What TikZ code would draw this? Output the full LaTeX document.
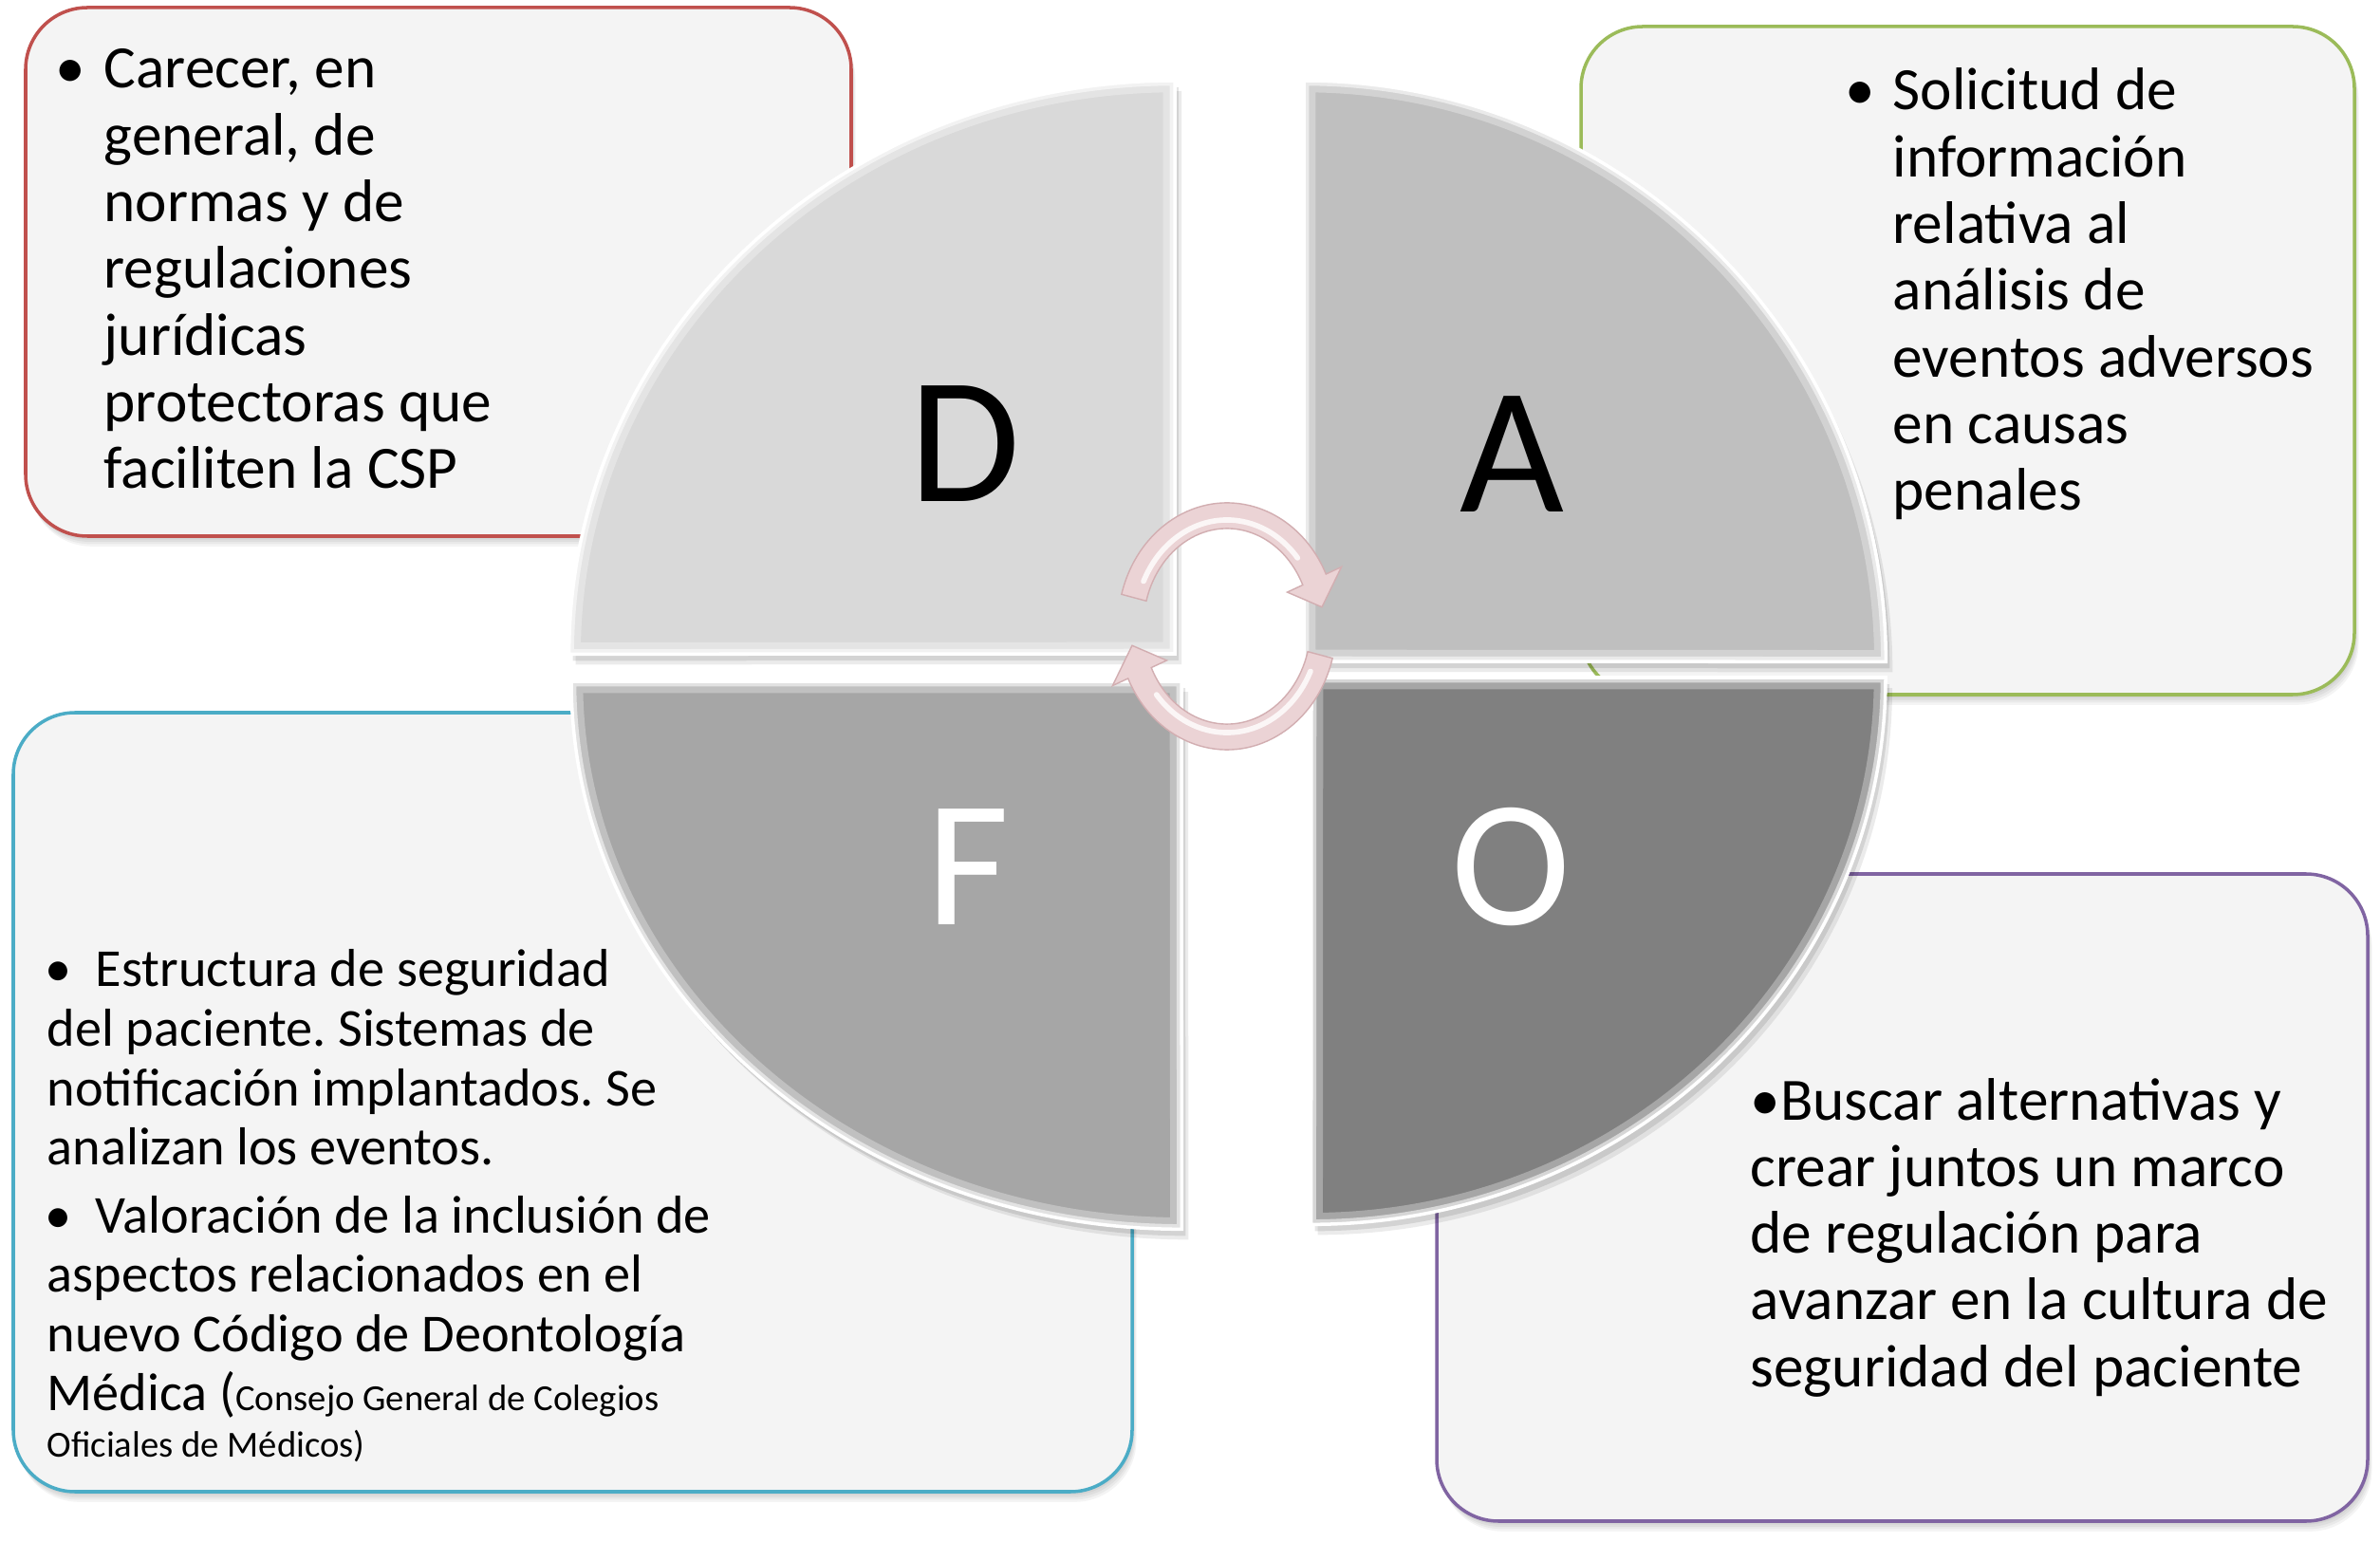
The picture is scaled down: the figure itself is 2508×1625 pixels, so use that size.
\documentclass[tikz,border=0pt]{standalone}
\usepackage{fontspec}
\setmainfont{Carlito}
\frenchspacing
\usetikzlibrary{calc}
\definecolor{boxfill}{HTML}{F4F4F4}
\definecolor{bred}{HTML}{C0504D}
\definecolor{bgreen}{HTML}{9BBB59}
\definecolor{bblue}{HTML}{4BACC6}
\definecolor{bpurple}{HTML}{8064A2}
\definecolor{pieD}{HTML}{D9D9D9}
\definecolor{pieA}{HTML}{BFBFBF}
\definecolor{pieF}{HTML}{A6A6A6}
\definecolor{pieO}{HTML}{808080}
\definecolor{arrowfill}{HTML}{EBD3D5}
\definecolor{arrowedge}{HTML}{D2AEB1}
\newcommand\swotbox[5]{%
  \foreach \o in {1,3,5,7,9}{\fill[black,opacity=0.045,rounded corners=0.65cm] (#1+\o*0.5,#2+\o*1.2) rectangle (#3+\o*0.5,#4+\o*1.2);}
  \draw[#5, line width=1pt, fill=boxfill, rounded corners=0.65cm] (#1,#2) rectangle (#3,#4);}
\newcommand\piequad[2]{%
  \fill[black,opacity=0.10,xshift=0.04cm,yshift=-0.07cm] #2;
  \fill[black,opacity=0.08,xshift=0.07cm,yshift=-0.11cm] #2;
  \fill[#1] #2;
  \begin{scope}\clip #2;
    \draw[white,opacity=0.30,line width=7pt] #2;
    \draw[white,opacity=0.55,line width=3pt] #2;
  \end{scope}
  \draw[white,line width=1pt] #2;}
\begin{document}
\begin{tikzpicture}[x=0.01cm, y=-0.01cm,
  txt/.style={inner sep=0pt, anchor=base west, font=\fontsize{18}{20}\selectfont},
  ftxt/.style={inner sep=0pt, anchor=base west, font=\fontsize{16}{17.8}\selectfont},
  bul/.style={inner sep=0pt, anchor=base, font=\fontsize{18}{20}\selectfont},
  fbul/.style={inner sep=0pt, anchor=base, font=\fontsize{16}{17.8}\selectfont},
  letter/.style={inner sep=0pt, anchor=base, font=\fontsize{54}{60}\selectfont},
  arrowbody/.style={fill=arrowfill, draw=arrowedge, line width=0.4pt}]
\useasboundingbox (0,0) rectangle (2508,1625);
\fill[white] (0,0) rectangle (2508,1625);

% boxes
\swotbox{27}{8}{897}{565}{bred}
\swotbox{1666}{28}{2481}{732}{bgreen}
\swotbox{14}{751}{1193}{1572}{bblue}
\swotbox{1514}{921}{2495}{1603}{bpurple}

% box texts
\node[bul] (dbul) at (74,93) {•};
\node[txt] (dtext) at (109,93) {\vtop{\hbox{Carecer, en}\hbox{general, de}\hbox{normas y de}\hbox{regulaciones}\hbox{jurídicas}\hbox{protectoras que}\hbox{faciliten la CSP}}};

\node[bul] (abul) at (1960,116) {•};
\node[txt] (atext) at (1994,116) {\vtop{\hbox{Solicitud de}\hbox{información}\hbox{relativa al}\hbox{análisis de}\hbox{eventos adversos}\hbox{en causas}\hbox{penales}}};

\node[fbul] (fbul1) at (62,1040) {•};
\node[ftxt] (ftext1) at (49,1040) {\vtop{\hbox{\hspace{0.51cm}Estructura de seguridad}\hbox{del paciente. Sistemas de}\hbox{notificación implantados. Se}\hbox{analizan los eventos.}}};
\node[fbul] (fbul2) at (62,1299) {•};
\node[ftxt] (ftext2) at (49,1299) {\vtop{\hbox{\hspace{0.51cm}Valoración de la inclusión de}\hbox{aspectos relacionados en el}\hbox{nuevo Código de Deontología}\hbox{Médica ({\fontsize{11}{13}\selectfont Consejo General de Colegios}}\vskip-4pt\hbox{\fontsize{11}{13}\selectfont Oficiales de Médicos)}}};

\node[txt] (otext) at (1844,1180) {\vtop{\hbox{•Buscar alternativas y}\hbox{crear juntos un marco}\hbox{de regulación para}\hbox{avanzar en la cultura de}\hbox{seguridad del paciente}}};

% pie quadrants
\piequad{pieD}{(1238,689) -- (1238,85) arc[start angle=90,end angle=180,x radius=6.38cm,y radius=6.04cm] -- cycle}
\piequad{pieA}{(1374,697) -- (1374,85) arc[start angle=90,end angle=0,x radius=6.13cm,y radius=6.12cm] -- cycle}
\piequad{pieF}{(1245,718) -- (602,718) arc[start angle=180,end angle=270,x radius=6.43cm,y radius=5.77cm] -- cycle}
\piequad{pieO}{(1382,714) -- (1987,714) arc[start angle=0,end angle=-90,x radius=6.05cm,y radius=5.76cm] -- cycle}

% letters
\node[letter] (ld) at (1017,529) {D};
\node[letter] (la) at (1593,540) {A};
\node[letter, text=white] (lf) at (1020,975) {F};
\node[letter, text=white] (lo) at (1592,975) {O};

% circular arrows
\coordinate (ac) at (1293,660);
\fill[black,opacity=0.12,xshift=0.03cm,yshift=-0.05cm] ($(ac)+(165:1.15cm and 1.30cm)$) arc[start angle=165,end angle=25,x radius=1.15cm,y radius=1.30cm] -- ($(ac)+(25:1.33cm and 1.48cm)$) -- ($(ac)+(10:1.015cm and 1.165cm)$) -- ($(ac)+(25:0.70cm and 0.85cm)$) -- ($(ac)+(25:0.88cm and 1.03cm)$) arc[start angle=25,end angle=165,x radius=0.88cm,y radius=1.03cm] -- cycle;
\fill[black,opacity=0.12,xshift=0.03cm,yshift=-0.05cm] ($(ac)+(345:1.15cm and 1.30cm)$) arc[start angle=345,end angle=205,x radius=1.15cm,y radius=1.30cm] -- ($(ac)+(205:1.33cm and 1.48cm)$) -- ($(ac)+(190:1.015cm and 1.165cm)$) -- ($(ac)+(205:0.70cm and 0.85cm)$) -- ($(ac)+(205:0.88cm and 1.03cm)$) arc[start angle=205,end angle=345,x radius=0.88cm,y radius=1.03cm] -- cycle;
\path[arrowbody] ($(ac)+(165:1.15cm and 1.30cm)$) arc[start angle=165,end angle=25,x radius=1.15cm,y radius=1.30cm] -- ($(ac)+(25:1.33cm and 1.48cm)$) -- ($(ac)+(10:1.015cm and 1.165cm)$) -- ($(ac)+(25:0.70cm and 0.85cm)$) -- ($(ac)+(25:0.88cm and 1.03cm)$) arc[start angle=25,end angle=165,x radius=0.88cm,y radius=1.03cm] -- cycle;
\path[arrowbody] ($(ac)+(345:1.15cm and 1.30cm)$) arc[start angle=345,end angle=205,x radius=1.15cm,y radius=1.30cm] -- ($(ac)+(205:1.33cm and 1.48cm)$) -- ($(ac)+(190:1.015cm and 1.165cm)$) -- ($(ac)+(205:0.70cm and 0.85cm)$) -- ($(ac)+(205:0.88cm and 1.03cm)$) arc[start angle=205,end angle=345,x radius=0.88cm,y radius=1.03cm] -- cycle;
\draw[white,opacity=0.8,line width=1.6pt,line cap=round] ($(ac)+(155:0.97cm and 1.12cm)$) arc[start angle=155,end angle=40,x radius=0.97cm,y radius=1.12cm];
\draw[white,opacity=0.8,line width=1.6pt,line cap=round] ($(ac)+(335:0.97cm and 1.12cm)$) arc[start angle=335,end angle=220,x radius=0.97cm,y radius=1.12cm];
\end{tikzpicture}
\end{document}
